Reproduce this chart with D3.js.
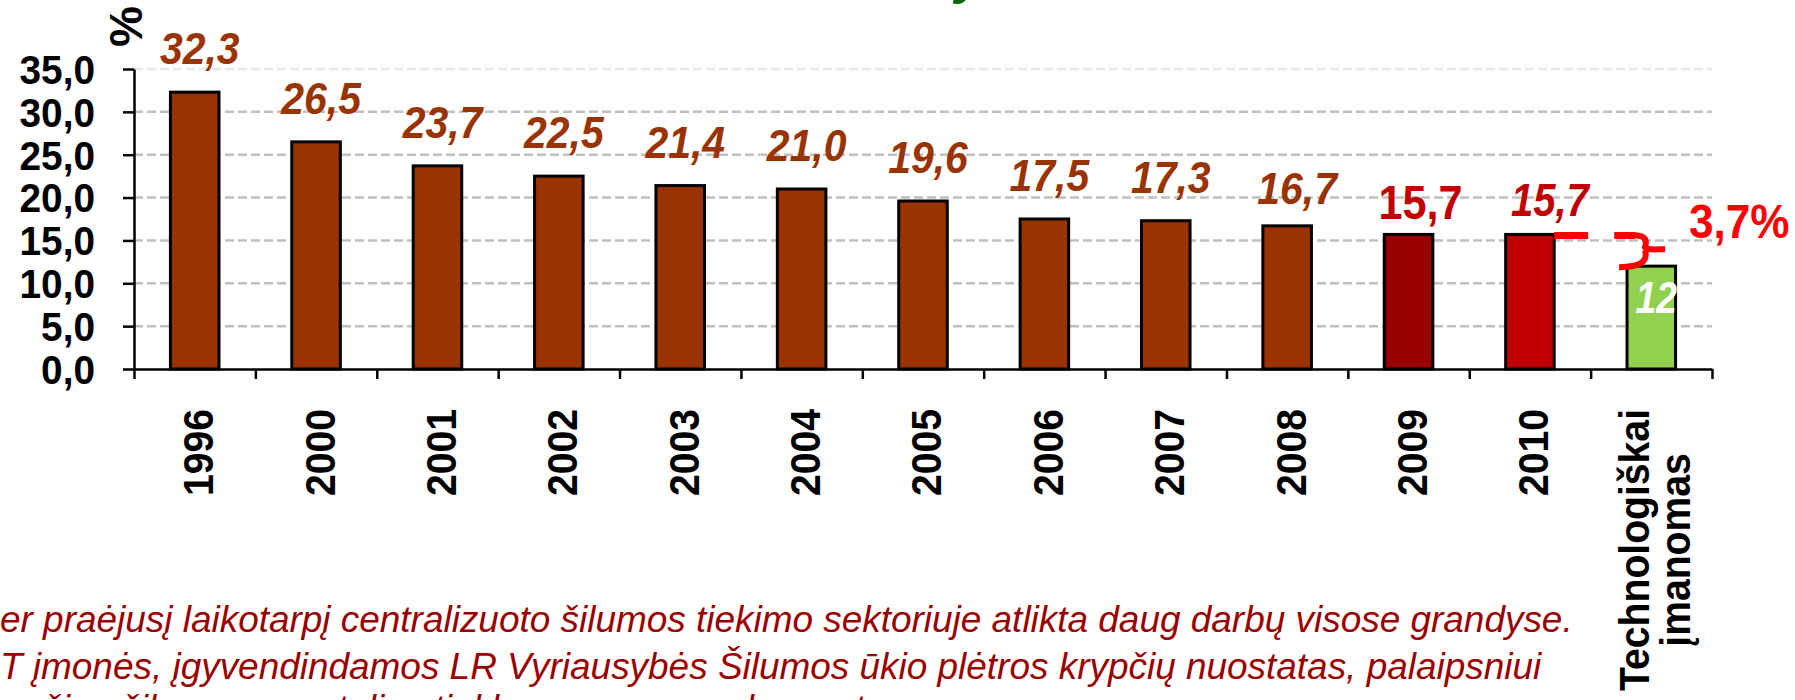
<!DOCTYPE html>
<html lang="lt">
<head>
  <meta charset="UTF-8">
  <title>Šilumos nuostoliai tinkluose</title>
  <style>
    html, body { margin: 0; padding: 0; background: #fff; overflow: hidden; }
    svg { display: block; font-family: "Liberation Sans", Arial, sans-serif; }
  </style>
</head>
<body>
  <svg width="1795" height="700"></svg>

  <script src="https://d3js.org/d3.v7.min.js"></script>
  <script>
    // duomenys
    const categories = ["1996", "2000", "2001", "2002", "2003", "2004", "2005",
                        "2006", "2007", "2008", "2009", "2010", "Technologiškai įmanomas"];
    const categoryLines = [["1996"], ["2000"], ["2001"], ["2002"], ["2003"], ["2004"], ["2005"],
                           ["2006"], ["2007"], ["2008"], ["2009"], ["2010"], ["Technologiškai", "įmanomas"]];
    const values = [32.3, 26.5, 23.7, 22.5, 21.4, 21.0, 19.6, 17.5, 17.3, 16.7, 15.7, 15.7, 12];
    const valueLabels = ["32,3", "26,5", "23,7", "22,5", "21,4", "21,0", "19,6",
                         "17,5", "17,3", "16,7", "15,7", "15,7", "12"];
    const yTicks = [0, 5, 10, 15, 20, 25, 30, 35];
    const yUnit = "%";
    const gapLabel = "3,7%";
    const titleText = "Santykiniai šilumos nuostoliai tinkluose";
    const noteLines = [
      "Per praėjusį laikotarpį centralizuoto šilumos tiekimo sektoriuje atlikta daug darbų visose grandyse.",
      "CŠT įmonės, įgyvendindamos LR Vyriausybės Šilumos ūkio plėtros krypčių nuostatas, palaipsniui",
      "mažino šilumos nuostolius tinkluose, renovuodamos trasas."
    ];

    // spalvos, šriftai
    const barColor = { "2009": "#990000", "2010": "#C00000", "Technologiškai įmanomas": "#92D050" };
    const defaultBar = "#993300";
    const labelStyle = {
      "2008": { gap: 22, dx: 10 },
      "2009": { gap: 15, dx: 12, italic: false, size: 48, sx: 0.9, color: "#C00000" },
      "2010": { gap: 18, dx: 20, size: 46, sx: 0.87, color: "#C00000" },
      "Technologiškai įmanomas": { gap: -47, dx: 5, size: 44, sx: 0.85, color: "#FFFFFF" }
    };
    const defaultLabel = { gap: 28, dx: 5, italic: true, size: 44, sx: 0.93, color: "#993300" };

    const svg = d3.select("svg");
    const plotLeft = 134, plotRight = 1712, plotTop = 69, plotBase = 369;

    const x = d3.scaleBand().domain(categories).range([plotLeft, plotRight])
      .paddingInner(0.6).paddingOuter(0.3);
    const xEdge = d3.scaleLinear().domain([0, categories.length]).range([plotLeft, plotRight]);
    const y = d3.scaleLinear().domain([0, 35]).range([plotBase, plotTop]);

    // pavadinimas (matosi tik apačia)
    const title = svg.append("text")
      .attr("x", 0).attr("y", -7)
      .attr("font-size", 52).attr("font-weight", "bold").attr("font-style", "italic")
      .attr("fill", "#006600")
      .text(titleText);
    const yIdx = titleText.indexOf("y");
    const yPos = title.node().getStartPositionOfChar(yIdx).x;
    title.attr("x", 955 - yPos);

    // tinklelis
    svg.append("g").selectAll("line").data(yTicks.filter(d => d > 0)).join("line")
      .attr("x1", plotLeft).attr("x2", plotRight)
      .attr("y1", d => y(d)).attr("y2", d => y(d))
      .attr("stroke", d => d === 35 ? "#e8e8e8" : "#c0c0c0")
      .attr("stroke-width", 2.5)
      .attr("stroke-dasharray", "9 4");

    // stulpeliai
    svg.append("g").selectAll("rect").data(categories).join("rect")
      .attr("x", d => x(d))
      .attr("y", (d, i) => y(values[i]))
      .attr("width", x.bandwidth())
      .attr("height", (d, i) => plotBase - y(values[i]))
      .attr("fill", d => barColor[d] || defaultBar)
      .attr("stroke", "#000")
      .attr("stroke-width", 3);

    // ašys
    const yAxis = svg.append("g").attr("transform", `translate(${plotLeft},0)`)
      .call(d3.axisLeft(y).tickValues(yTicks).tickSize(11).tickSizeOuter(0)
        .tickFormat(d => d.toFixed(1).replace(".", ",")));
    yAxis.select(".domain").attr("stroke", "#000").attr("stroke-width", 2.5);
    yAxis.selectAll(".tick line").attr("stroke", "#000").attr("stroke-width", 2.5);
    yAxis.selectAll(".tick text")
      .attr("x", 0).attr("dy", "0.36em")
      .attr("transform", "translate(-39,0) scale(0.97,1)")
      .attr("font-family", "'Liberation Sans', Arial, sans-serif")
      .attr("font-size", 40).attr("font-weight", "bold").attr("fill", "#000");

    const xAxis = svg.append("g").attr("transform", `translate(0,${plotBase})`)
      .call(d3.axisBottom(xEdge).tickValues(d3.range(0, categories.length + 1))
        .tickSize(10).tickSizeOuter(0).tickFormat(""));
    xAxis.select(".domain").attr("stroke", "#000").attr("stroke-width", 2.5);
    xAxis.selectAll(".tick line").attr("stroke", "#000").attr("stroke-width", 2.5);

    // vienetai
    svg.append("text")
      .attr("transform", "translate(142,47) rotate(-90)")
      .attr("font-size", 46).attr("font-weight", "bold").attr("fill", "#000")
      .text(yUnit);

    // kategorijų užrašai
    const labFs = 43, labSx = 0.91, labLh = 41, labTop = 409;
    categories.forEach((c, i) => {
      const lines = categoryLines[i];
      const grp = svg.append("g");
      const t = grp.append("text")
        .attr("transform", `rotate(-90) scale(${labSx},1)`)
        .attr("text-anchor", "middle")
        .attr("font-size", labFs).attr("font-weight", "bold").attr("fill", "#000");
      lines.forEach((ln, j) => {
        t.append("tspan").attr("x", 0)
          .attr("y", 0.36 * labFs - (lines.length - 1) * labLh / 2 + j * labLh)
          .text(ln);
      });
      const len = labSx * d3.max(t.selectAll("tspan").nodes(), n => n.getComputedTextLength());
      grp.attr("transform", `translate(${x(c) + x.bandwidth() / 2 + 3},${labTop + len / 2})`);
    });

    // reikšmės
    svg.append("g").selectAll("text").data(categories).join("text")
      .each(function (d, i) {
        const s = Object.assign({}, defaultLabel, labelStyle[d] || {});
        const cx = x(d) + x.bandwidth() / 2 + s.dx;
        const cy = y(values[i]) - s.gap;
        d3.select(this)
          .attr("transform", `translate(${cx},${cy}) scale(${s.sx},1)`)
          .attr("text-anchor", "middle")
          .attr("font-size", s.size).attr("font-weight", "bold")
          .attr("font-style", s.italic ? "italic" : "normal")
          .attr("fill", s.color)
          .text(valueLabels[i]);
      });

    // skirtumas tarp 2010 ir technologiškai įmanomo
    const last = categories.length - 1;
    const yA = y(values[last - 1]) + 1, yB = y(values[last]) + 1;
    const bx = x(categories[last]) - 14;
    const ym = (yA + yB) / 2;
    svg.append("line")
      .attr("x1", x(categories[last - 1]) + x.bandwidth()).attr("x2", bx + 22)
      .attr("y1", yA).attr("y2", yA)
      .attr("stroke", "#FF0000").attr("stroke-width", 7)
      .attr("stroke-dasharray", "34 26");
    const br = d3.path();
    br.moveTo(bx + 18, yA);
    br.bezierCurveTo(bx + 30, yA - 1, bx + 35, yA + 3, bx + 32, ym - 4);
    br.bezierCurveTo(bx + 34, ym - 1, bx + 44, ym - 2, bx + 52, ym - 2);
    br.moveTo(bx + 32, ym - 1);
    br.bezierCurveTo(bx + 35, yB - 6, bx + 28, yB, bx + 6, yB);
    svg.append("path").attr("d", br.toString())
      .attr("fill", "none").attr("stroke", "#FF0000").attr("stroke-width", 6);

    svg.append("text")
      .attr("transform", "translate(1689,238) scale(0.92,1)")
      .attr("font-size", 48).attr("font-weight", "bold").attr("fill", "#FF0000")
      .text(gapLabel);

    // tekstas apačioje
    const noteBase = [632, 679, 721];
    const note = svg.append("g").attr("font-style", "italic").attr("fill", "#990000");
    const probe = note.append("text").attr("font-size", 36).text(noteLines[0]);
    const pw = probe.node().getSubStringLength(0, 1);
    const fw = probe.node().getComputedTextLength();
    probe.remove();
    const noteFs = 36 * 1573 / (fw - pw);
    noteLines.forEach((ln, i) => {
      const t = note.append("text").attr("font-size", noteFs).attr("y", noteBase[i]).text(ln);
      const cut = i === 0 ? 1 : (i === 1 ? 2 : 0);
      const off = cut ? t.node().getSubStringLength(0, cut) : 8;
      t.attr("x", -off);
    });
  </script>
</body>
</html>
